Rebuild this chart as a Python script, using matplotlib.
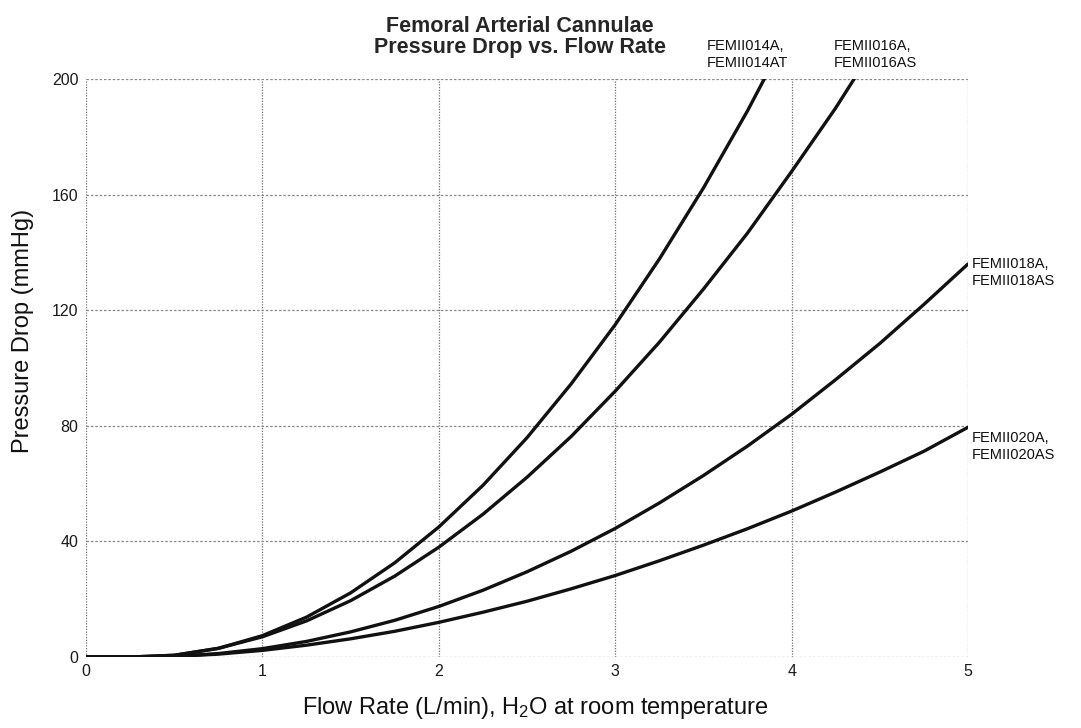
import matplotlib
matplotlib.use("Agg")
import matplotlib.pyplot as plt

plt.rcParams['font.family'] = ['Liberation Sans', 'DejaVu Sans']
plt.rcParams['mathtext.fontset'] = 'custom'
plt.rcParams['mathtext.rm'] = 'Liberation Sans'
plt.rcParams['mathtext.default'] = 'regular'

# flow rate (L/min), every 0.25
flow = [0, 0.25, 0.5, 0.75, 1, 1.25, 1.5, 1.75, 2, 2.25, 2.5, 2.75, 3,
        3.25, 3.5, 3.75, 4, 4.25, 4.5, 4.75, 5]

# pressure drop (mmHg)
p014 = [0, 0, 0.6, 3, 7.4, 13.8, 22.2, 32.6, 45, 59.4, 75.9, 94.5, 115,
        137.7, 162.3, 189, 218]
p016 = [0, 0, 0.6, 3, 7, 12.5, 19.5, 28, 38, 49.4, 62.2, 76.3, 92, 108.9,
        127.3, 146.7, 168, 190, 214]
p018 = [0, 0, 0.2, 1.2, 2.9, 5.4, 8.7, 12.7, 17.5, 23.1, 29.5, 36.6, 44.5,
        53.3, 62.8, 73, 84, 96, 108.5, 122, 136]
p020 = [0, 0, 0.2, 1, 2.3, 4.1, 6.3, 8.9, 12, 15.5, 19.3, 23.6, 28.2, 33.3,
        38.7, 44.4, 50.5, 57.1, 64, 71.2, 79.5]

series = [
    (p014, "FEMII014A,\nFEMII014AT"),
    (p016, "FEMII016A,\nFEMII016AS"),
    (p018, "FEMII018A,\nFEMII018AS"),
    (p020, "FEMII020A,\nFEMII020AS"),
]

xticks = [0, 1, 2, 3, 4, 5]
yticks = [0, 40, 80, 120, 160, 200]

fig = plt.figure(figsize=(10.81, 7.28), dpi=100)
ax = fig.add_axes([0.0796, 0.0975, 0.8159, 0.794])

for vals, name in series:
    ax.plot(flow[:len(vals)], vals, color='#111111', lw=2.4,
            solid_capstyle='round', solid_joinstyle='round')

ax.set_xlim(0, 5)
ax.set_ylim(0, 200)
ax.set_xticks(xticks)
ax.set_yticks(yticks)
ax.tick_params(length=0, labelsize=11.5, colors='#1a1a1a')
ax.tick_params(axis='x', pad=5)
ax.tick_params(axis='y', pad=5.5)
for s in ax.spines.values():
    s.set_visible(False)
ax.xaxis.grid(True, color='#6a6f80', lw=0.9, ls=(0, (1, 1.2)))
ax.yaxis.grid(True, color='#888888', lw=0.9, ls=(0, (2, 1.5)))

# title and axis labels
fig.text(0.481, 0.949, "Femoral Arterial Cannulae\nPressure Drop vs. Flow Rate",
         ha='center', va='center', fontsize=15.5, fontweight='bold',
         color='#262626', linespacing=0.98)
fig.text(0.495, 0.027, "Flow Rate (L/min), H$_2$O at room temperature",
         ha='center', va='center', fontsize=17, color='#111111')
fig.text(0.021, 0.545, "Pressure Drop (mmHg)", rotation=90,
         ha='center', va='center', fontsize=17, color='#111111')

# curve labels
lab_kw = dict(fontsize=10.5, color='#111111', va='top', ha='left',
              linespacing=1.3)
fig.text(0.654, 0.947, series[0][1], **lab_kw)
fig.text(0.771, 0.947, series[1][1], **lab_kw)
fig.text(0.899, 0.647, series[2][1], **lab_kw)
fig.text(0.899, 0.408, series[3][1], **lab_kw)

fig.savefig("out.png", dpi=100)
